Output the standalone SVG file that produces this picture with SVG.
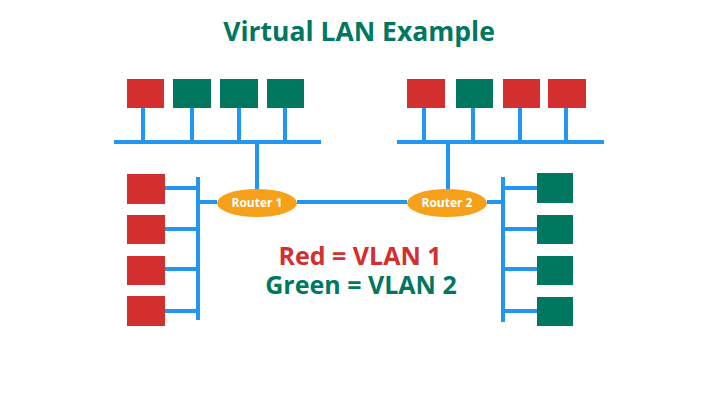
<svg xmlns="http://www.w3.org/2000/svg" width="720" height="400" viewBox="0 0 720 400">
<style>
.red{fill:#D32F2F}
.grn{fill:#00775F}
.ln{stroke:#2196F3;stroke-width:4;fill:none}
.rt{fill:#F7A11A}
.rtx{font-family:"Open Sans","Liberation Sans",sans-serif;font-weight:700;font-size:12px;fill:#ffffff;text-anchor:middle}
.ttl{font-family:"Open Sans","Liberation Sans",sans-serif;font-weight:700;text-anchor:middle}
</style>
<rect width="720" height="400" fill="#ffffff"/>
<text class="ttl" x="359" y="41" font-size="26.5" fill="#00775F">Virtual LAN Example</text>
<g id="connectors">
<path class="ln" d="M114 142H321M143 108V142M192 108V142M239 108V142M285 108V142M257 142V189"/>
<path class="ln" d="M397 142H604M424 108V142M473 108V142M520 108V142M566 108V142M448 142V189"/>
<path class="ln" d="M198 177V320M165 188H198M165 229H198M165 269H198M165 311H198M198 202H217"/>
<path class="ln" d="M297 202H407"/>
<path class="ln" d="M503 177V322M503 188H537M503 229H537M503 269H537M503 311H537M487 202H503"/>
</g>
<g id="tl1"><rect class="red" x="127" y="79" width="37" height="29"/></g>
<g id="tl2"><rect class="grn" x="173" y="79" width="38" height="29"/></g>
<g id="tl3"><rect class="grn" x="220" y="79" width="38" height="29"/></g>
<g id="tl4"><rect class="grn" x="267" y="79" width="37" height="29"/></g>
<g id="tr1"><rect class="red" x="407" y="79" width="38" height="29"/></g>
<g id="tr2"><rect class="grn" x="456" y="79" width="37" height="29"/></g>
<g id="tr3"><rect class="red" x="503" y="79" width="37" height="29"/></g>
<g id="tr4"><rect class="red" x="548" y="79" width="38" height="29"/></g>
<g id="l1"><rect class="red" x="127" y="174" width="38" height="30"/></g>
<g id="l2"><rect class="red" x="127" y="215" width="38" height="29"/></g>
<g id="l3"><rect class="red" x="127" y="256" width="38" height="29"/></g>
<g id="l4"><rect class="red" x="127" y="296" width="38" height="30"/></g>
<g id="r1"><rect class="grn" x="537" y="173" width="36" height="30"/></g>
<g id="r2"><rect class="grn" x="537" y="215" width="36" height="29"/></g>
<g id="r3"><rect class="grn" x="537" y="256" width="36" height="29"/></g>
<g id="r4"><rect class="grn" x="537" y="297" width="36" height="29"/></g>
<g id="router1"><ellipse class="rt" cx="257" cy="203" rx="40" ry="14"/><text class="rtx" x="257" y="207">Router 1</text></g>
<g id="router2"><ellipse class="rt" cx="447" cy="203" rx="40" ry="14"/><text class="rtx" x="447" y="207">Router 2</text></g>
<g id="legend">
<text class="ttl" x="360" y="265" font-size="25" fill="#D32F2F">Red = VLAN 1</text>
<text class="ttl" x="361" y="294" font-size="25" fill="#00775F">Green = VLAN 2</text>
</g>
</svg>
